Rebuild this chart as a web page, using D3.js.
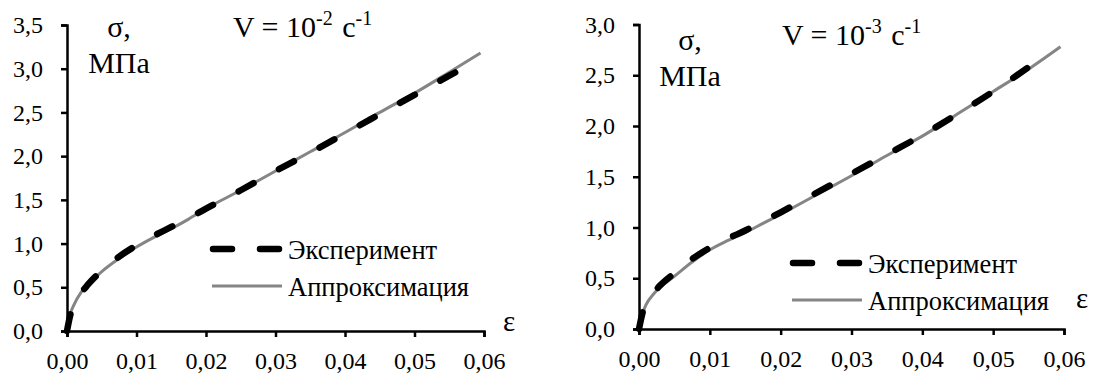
<!DOCTYPE html>
<html>
<head>
<meta charset="utf-8">
<script src="https://cdn.jsdelivr.net/npm/d3@7"></script>
</head>
<body style="margin:0">
<svg id="chart" width="1095" height="374"></svg>
<script>
// Data (strain ε, stress σ in MPa)
var strainFitL = [0, 0.0005, 0.001, 0.002, 0.003, 0.005, 0.0075, 0.01, 0.0125, 0.015, 0.0175, 0.02, 0.025, 0.03, 0.035, 0.04, 0.045, 0.05, 0.055, 0.0595];
var stressFitL = [0, 0.2, 0.3, 0.44, 0.53, 0.68, 0.83, 0.96, 1.07, 1.17, 1.28, 1.40, 1.61, 1.83, 2.05, 2.27, 2.50, 2.72, 2.96, 3.18];
var strainExpL = [0, 0.0005, 0.001, 0.002, 0.003, 0.005, 0.0075, 0.01, 0.0125, 0.015, 0.0175, 0.02, 0.025, 0.03, 0.035, 0.04, 0.045, 0.05, 0.055, 0.058];
var stressExpL = [0, 0.19, 0.29, 0.43, 0.53, 0.69, 0.85, 0.98, 1.09, 1.19, 1.29, 1.40, 1.61, 1.83, 2.04, 2.26, 2.48, 2.70, 2.92, 3.05];

var strainFitR = [0, 0.0005, 0.001, 0.002, 0.003, 0.005, 0.0075, 0.01, 0.0125, 0.015, 0.0175, 0.02, 0.025, 0.03, 0.035, 0.04, 0.045, 0.05, 0.055, 0.0595];
var stressFitR = [0, 0.15, 0.24, 0.34, 0.41, 0.52, 0.66, 0.78, 0.87, 0.95, 1.04, 1.13, 1.32, 1.51, 1.71, 1.90, 2.12, 2.34, 2.56, 2.78];
var strainExpR = [0, 0.0005, 0.001, 0.002, 0.003, 0.005, 0.0075, 0.01, 0.0125, 0.015, 0.0175, 0.02, 0.025, 0.03, 0.035, 0.04, 0.045, 0.05, 0.0566];
var stressExpR = [0, 0.16, 0.25, 0.35, 0.43, 0.55, 0.69, 0.80, 0.89, 0.97, 1.06, 1.15, 1.34, 1.53, 1.72, 1.91, 2.12, 2.34, 2.66];

var xTicks = [0, 0.01, 0.02, 0.03, 0.04, 0.05, 0.06];
var yTicksL = [0, 0.5, 1, 1.5, 2, 2.5, 3, 3.5];
var yTicksR = [0, 0.5, 1, 1.5, 2, 2.5, 3];
var seriesNames = ["Эксперимент", "Аппроксимация"];

var svg = d3.select("svg#chart");

function comma(f) {
    return function(d) { return d3.format(f)(d).replace(".", ","); };
}

function label(g, x, y, size, str) {
    var t = g.append("text").attr("x", x).attr("y", y).attr("font-size", size).attr("fill", "#000")
        .attr("font-family", "Liberation Serif");
    if (str !== null) t.text(str);
    return t;
}

function drawPanel(p) {
    var x = d3.scaleLinear().domain([0, 0.06]).range([p.x0, p.x1]);
    var y = d3.scaleLinear().domain([0, p.yMax]).range([p.y0, p.y1]);
    var g = svg.append("g");

    // axes
    var xa = g.append("g").attr("transform", "translate(0," + p.y0 + ")")
        .call(d3.axisBottom(x).tickValues(xTicks).tickFormat(comma(".2f")).tickSizeInner(6).tickSizeOuter(6).tickPadding(15));
    var ya = g.append("g").attr("transform", "translate(" + p.x0 + ",0)")
        .call(d3.axisLeft(y).tickValues(p.yTicks).tickFormat(comma(".1f")).tickSizeInner(6).tickSizeOuter(6).tickPadding(18));
    [xa, ya].forEach(function(a) {
        a.attr("font-family", "Liberation Serif").attr("font-size", 24);
        a.selectAll("path, line").attr("stroke", "#000").attr("stroke-width", 2.5);
        a.selectAll("text").attr("fill", "#000");
    });

    var line = d3.line().curve(d3.curveMonotoneX)
        .x(function(d) { return x(d[0]); }).y(function(d) { return y(d[1]); });

    // approximation (gray solid)
    g.append("path").datum(d3.zip(p.strainFit, p.stressFit)).attr("d", line)
        .attr("fill", "none").attr("stroke", "#858585").attr("stroke-width", 3);
    // experiment (black dashed)
    g.append("path").datum(d3.zip(p.strainExp, p.stressExp)).attr("d", line)
        .attr("fill", "none").attr("stroke", "#000").attr("stroke-width", 6.5)
        .attr("stroke-linecap", "round").attr("stroke-dasharray", "17,29");

    // axis titles
    label(g, p.sx, p.sy, 30, "σ,").attr("text-anchor", "middle");
    label(g, p.sx, p.sy + 36, 30, "МПа").attr("text-anchor", "middle");
    label(g, p.ex, p.ey, 29, "ε");

    // rate label
    var t = label(g, p.tx, p.ty, 30, null);
    t.append("tspan").text("V = 10");
    t.append("tspan").attr("dy", -12).attr("font-size", 20).text(p.pow);
    t.append("tspan").attr("dy", 12).attr("dx", 2).text(" с");
    t.append("tspan").attr("dy", -12).attr("font-size", 20).text("-1");

    // legend
    g.append("line").attr("x1", p.lx + 3).attr("x2", p.lx + 69).attr("y1", p.ly).attr("y2", p.ly)
        .attr("stroke", "#000").attr("stroke-width", 6.5).attr("stroke-linecap", "round").attr("stroke-dasharray", "19,28");
    g.append("line").attr("x1", p.lx + 2).attr("x2", p.lx + 72).attr("y1", p.ly + 37).attr("y2", p.ly + 37)
        .attr("stroke", "#858585").attr("stroke-width", 3);
    label(g, p.lx + 78, p.ly + 10, 26.5, seriesNames[0]);
    label(g, p.lx + 78, p.ly + 47, 26.5, seriesNames[1]);
}

drawPanel({
    x0: 67, x1: 484, y0: 331, y1: 25, yMax: 3.5, yTicks: yTicksL,
    strainFit: strainFitL, stressFit: stressFitL, strainExp: strainExpL, stressExp: stressExpL,
    sx: 119, sy: 37, ex: 503, ey: 331, tx: 233, ty: 37, pow: "-2", lx: 210, ly: 249
});
drawPanel({
    x0: 639, x1: 1064, y0: 329, y1: 24.5, yMax: 3, yTicks: yTicksR,
    strainFit: strainFitR, stressFit: stressFitR, strainExp: strainExpR, stressExp: stressExpR,
    sx: 690, sy: 50, ex: 1076, ey: 308, tx: 782, ty: 45, pow: "-3", lx: 790, ly: 263
});
</script>
</body>
</html>
